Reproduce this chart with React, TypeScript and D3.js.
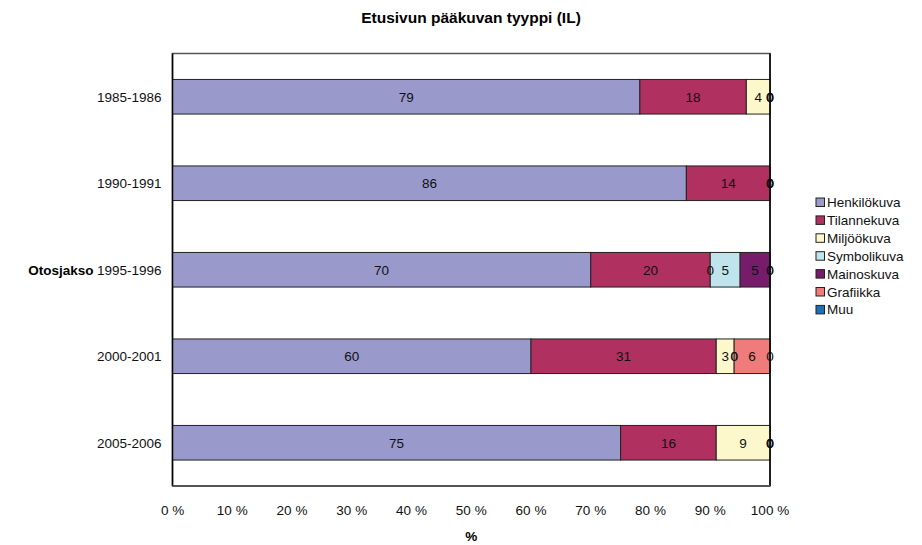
import React, { useEffect, useRef } from 'react';
import * as d3 from 'd3';

const periods = ['1985-1986', '1990-1991', '1995-1996', '2000-2001', '2005-2006'];
const seriesNames = ['Henkilökuva', 'Tilannekuva', 'Miljöökuva', 'Symbolikuva', 'Mainoskuva', 'Grafiikka', 'Muu'];
const seriesColors = ['#9999CC', '#B03060', '#FCF8CC', '#C0E4EC', '#761C6A', '#EF7B7B', '#1F6FB5'];
// values per period, in the order of seriesNames
const henkilo = [79, 86, 70, 60, 75];
const tilanne = [18, 14, 20, 31, 16];
const miljoo = [4, 0, 0, 3, 9];
const symboli = [0, 0, 5, 0, 0];
const mainos = [0, 0, 5, 0, 0];
const grafiikka = [0, 0, 0, 6, 0];
const muu = [0, 0, 0, 0, 0];
const xTicks = [0, 10, 20, 30, 40, 50, 60, 70, 80, 90, 100];

const App = () => {
  const ref = useRef<SVGSVGElement | null>(null);

  useEffect(() => {
    const W = 922, H = 545;
    const margin = { top: 53.5, right: 152, bottom: 59, left: 172.5 };
    const width = W - margin.left - margin.right;
    const height = H - margin.top - margin.bottom;
    const font = 'Arial, "Liberation Sans", sans-serif';
    const fs = '13.5px';

    const svg = d3.select(ref.current);
    svg.selectAll('*').remove();

    const all = [henkilo, tilanne, miljoo, symboli, mainos, grafiikka, muu];
    const rows = periods.map((p, i) => {
      const row: any = { period: p };
      seriesNames.forEach((s, j) => (row[s] = all[j][i]));
      return row;
    });
    const stacked = d3.stack<any>().keys(seriesNames).offset(d3.stackOffsetExpand)(rows);

    const x = d3.scaleLinear().domain([0, 1]).range([0, width]);
    const y = d3.scaleBand().domain(periods).range([0, height]).paddingInner(0.6).paddingOuter(0.3);

    svg.append('text')
      .attr('x', 471).attr('y', 23)
      .attr('text-anchor', 'middle')
      .style('font-family', font).style('font-size', '15.5px').style('font-weight', 'bold')
      .text('Etusivun pääkuvan tyyppi (IL)');

    const g = svg.append('g').attr('transform', `translate(${margin.left},${margin.top})`);

    // plot frame
    g.append('rect').attr('width', width).attr('height', height)
      .attr('fill', 'none').attr('stroke', '#555').attr('stroke-width', 1.5);

    const layers = g.selectAll('.layer').data(stacked).join('g').attr('class', 'layer')
      .attr('fill', (d, i) => seriesColors[i]);
    layers.selectAll('rect').data(d => d.filter(v => v[1] - v[0] > 0)).join('rect')
      .attr('x', d => x(d[0]))
      .attr('y', d => y(d.data.period)!)
      .attr('width', d => x(d[1]) - x(d[0]))
      .attr('height', y.bandwidth())
      .attr('stroke', '#222').attr('stroke-width', 1);

    // data labels
    stacked.forEach((layer, i) => {
      g.append('g').selectAll('text').data(layer).join('text')
        .attr('x', d => (x(d[0]) + x(d[1])) / 2)
        .attr('y', d => y(d.data.period)! + y.bandwidth() / 2 + 5)
        .attr('text-anchor', 'middle')
        .style('font-family', font).style('font-size', fs).attr('fill', '#111')
        .text(d => all[i][periods.indexOf(d.data.period)]);
    });

    // axes lines
    g.append('line').attr('x1', 0).attr('x2', 0).attr('y1', 0).attr('y2', height).attr('stroke', '#000').attr('stroke-width', 1.5);
    g.append('line').attr('x1', width).attr('x2', width).attr('y1', 0).attr('y2', height).attr('stroke', '#000').attr('stroke-width', 1.5);
    g.append('line').attr('x1', 0).attr('x2', width).attr('y1', height).attr('y2', height).attr('stroke', '#555').attr('stroke-width', 2);

    // y labels
    g.append('g').selectAll('text').data(periods).join('text')
      .attr('x', -11).attr('y', d => y(d)! + y.bandwidth() / 2 + 5)
      .attr('text-anchor', 'end')
      .style('font-family', font).style('font-size', fs).attr('fill', '#111')
      .text(d => d);
    g.append('text')
      .attr('x', -79).attr('y', y(periods[2])! + y.bandwidth() / 2 + 5)
      .attr('text-anchor', 'end')
      .style('font-family', font).style('font-size', fs).style('font-weight', 'bold')
      .text('Otosjakso');

    // x ticks
    g.append('g').selectAll('text').data(xTicks).join('text')
      .attr('x', d => x(d / 100)).attr('y', height + 29)
      .attr('text-anchor', 'middle')
      .style('font-family', font).style('font-size', fs).attr('fill', '#111')
      .text(d => `${d} %`);
    g.append('text')
      .attr('x', width / 2).attr('y', height + 55)
      .attr('text-anchor', 'middle')
      .style('font-family', font).style('font-size', fs).style('font-weight', 'bold')
      .text('%');

    // legend
    const legend = svg.append('g').attr('transform', 'translate(816,198)');
    const item = legend.selectAll('g').data(seriesNames).join('g')
      .attr('transform', (d, i) => `translate(0,${i * 17.9})`);
    item.append('rect').attr('width', 8.5).attr('height', 8.5)
      .attr('fill', (d, i) => seriesColors[i]).attr('stroke', '#222').attr('stroke-width', 1);
    item.append('text').attr('x', 11).attr('y', 9)
      .style('font-family', font).style('font-size', fs).attr('fill', '#111')
      .text(d => d);
  }, []);

  return <svg ref={ref} width={922} height={545} style={{ position: 'absolute', left: 0, top: 0, background: '#fff' }} />;
};

export default App;
